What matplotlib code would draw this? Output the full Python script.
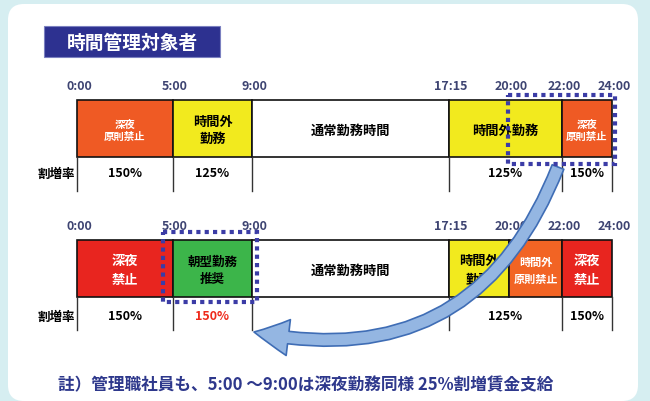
import matplotlib
matplotlib.use("Agg")
import matplotlib.pyplot as plt
from matplotlib.patches import Rectangle, FancyBboxPatch, FancyArrowPatch, ArrowStyle

plt.rcParams['font.family'] = ['Noto Sans CJK JP', 'DejaVu Sans']

title = "時間管理対象者"
note = "註）管理職社員も、5:00 ～9:00は深夜勤務同様 25%割増賃金支給"
rate_header = "割増率"

# 現行
top_times = ["0:00", "5:00", "9:00", "17:15", "20:00", "22:00", "24:00"]
top_edges = ["0:00", "5:00", "9:00", "17:15", "22:00", "24:00"]
top_labels = ["深夜\n原則禁止", "時間外\n勤務", "通常勤務時間", "時間外勤務", "深夜\n原則禁止"]
top_kinds = ["night_ng", "overtime", "normal", "overtime", "night_ng"]
top_rate_edges = ["0:00", "5:00", "9:00", "17:15", "22:00", "24:00"]
top_rates = ["150%", "125%", "", "125%", "150%"]
top_rate_hi = [False, False, False, False, False]

# 変更後
bot_times = ["0:00", "5:00", "9:00", "17:15", "20:00", "22:00", "24:00"]
bot_edges = ["0:00", "5:00", "9:00", "17:15", "20:00", "22:00", "24:00"]
bot_labels = ["深夜\n禁止", "朝型勤務\n推奨", "通常勤務時間", "時間外\n勤務", "時間外\n原則禁止", "深夜\n禁止"]
bot_kinds = ["night_ban", "morning", "normal", "overtime", "overtime_ng", "night_ban"]
bot_rate_edges = ["0:00", "5:00", "9:00", "17:15", "22:00", "24:00"]
bot_rates = ["150%", "150%", "", "125%", "150%"]
bot_rate_hi = [False, True, False, False, False]

# 見た目 (塗り, 文字色, 文字サイズ)
kind_style = {
    "night_ng": ("#ef5a24", "white", 7.5),
    "overtime": ("#f2ea1e", "black", 9.5),
    "normal": ("white", "black", 9.5),
    "night_ban": ("#e8251f", "white", 9.5),
    "morning": ("#3cb54a", "black", 9),
    "overtime_ng": ("#f26424", "white", 8),
}
# 模式図の横位置(px)
x_of = {"0:00": 77, "5:00": 173, "9:00": 252, "17:15": 449,
        "20:00": 509, "22:00": 562, "24:00": 612}

fig = plt.figure(figsize=(6.5, 4.02), dpi=100, facecolor="#d6eef1")
ax = fig.add_axes([0, 0, 1, 1])
ax.set_xlim(0, 650)
ax.set_ylim(402, 0)
ax.axis("off")

ax.add_patch(FancyBboxPatch((8, 5), 630, 397, boxstyle="round,pad=0,rounding_size=16",
                            fc="white", ec="none", zorder=0))

# タイトル
ax.add_patch(Rectangle((44, 27), 176, 31, fc="#2d3190", ec="#7b80c0", lw=0.8, zorder=2))
ax.text(132, 43, title, color="white", fontsize=13.5, fontweight="bold",
        ha="center", va="center", zorder=3)


def draw_row(times, edges, labels, kinds, rate_edges, rates, rate_hi,
             label_y, bar_top, bar_bot, rate_y, tick_bot, spacing):
    for t in times:
        ax.text(x_of[t] + 2, label_y, t, color="#3e4472", fontsize=9, fontweight="bold",
                ha="center", va="center", zorder=3)
    for i, lab in enumerate(labels):
        x0, x1 = x_of[edges[i]], x_of[edges[i + 1]]
        fc, tc, fs = kind_style[kinds[i]]
        ax.add_patch(Rectangle((x0, bar_top), x1 - x0, bar_bot - bar_top,
                               fc=fc, ec="#111111", lw=1.2, zorder=2))
        ax.text((x0 + x1) / 2, (bar_top + bar_bot) / 2 + 1, lab, color=tc, fontsize=fs,
                fontweight="bold", ha="center", va="center", linespacing=spacing, zorder=3)
    for e in rate_edges:
        ax.plot([x_of[e], x_of[e]], [bar_bot, tick_bot], color="#333333", lw=1, zorder=2)
    for i, r in enumerate(rates):
        x0, x1 = x_of[rate_edges[i]], x_of[rate_edges[i + 1]]
        ax.text((x0 + x1) / 2, rate_y, r, color="#ee2a1b" if rate_hi[i] else "black",
                fontsize=9, fontweight="bold", ha="center", va="center", zorder=3)
    ax.text(56, rate_y, rate_header, color="black", fontsize=9, fontweight="bold",
            ha="center", va="center", zorder=3)


draw_row(top_times, top_edges, top_labels, top_kinds, top_rate_edges, top_rates, top_rate_hi,
         86, 101, 158, 174, 192, 1.25)
draw_row(bot_times, bot_edges, bot_labels, bot_kinds, bot_rate_edges, bot_rates, bot_rate_hi,
         227, 241, 298, 317, 331, 1.4)

# 点線の囲み
dot = dict(fill=False, ec="#3b3ca6", lw=3, ls=(0, (1, 1.0)), zorder=5)
ax.add_patch(Rectangle((508, 96), 107, 69, **dot))
ax.add_patch(Rectangle((163, 233), 94, 70, **dot))

# 矢印
arrow = FancyArrowPatch((558, 168), (254, 333), connectionstyle="arc3,rad=-0.42",
                        arrowstyle=ArrowStyle("Simple", head_length=25, head_width=26, tail_width=9),
                        mutation_scale=1, shrinkA=0, shrinkB=0,
                        fc="#94b6e2", ec="#3f6db5", lw=1.2, zorder=4)
ax.add_patch(arrow)

ax.text(58, 385, note, color="#2e388c", fontsize=12, fontweight="bold",
        ha="left", va="center", zorder=3)

fig.savefig("out.png", dpi=100, facecolor=fig.get_facecolor())
